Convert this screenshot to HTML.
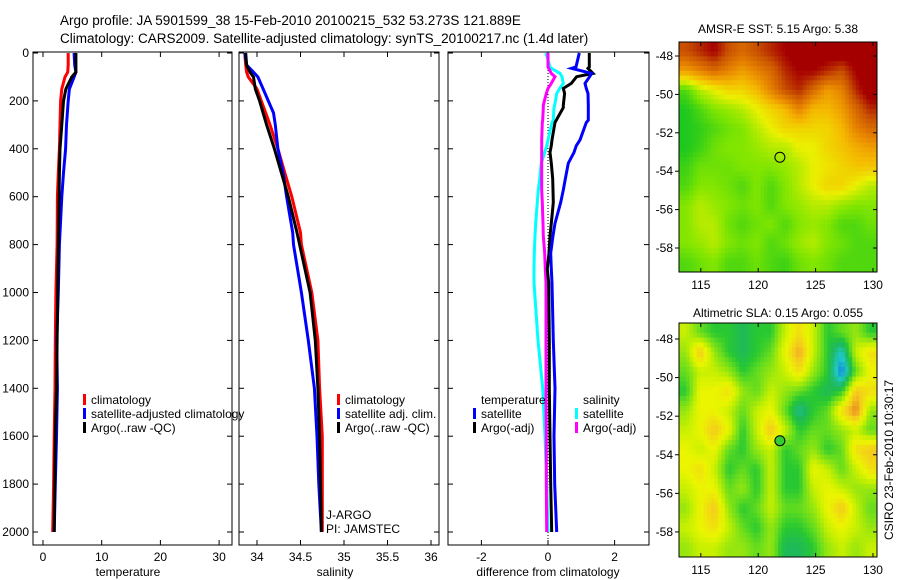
<!DOCTYPE html>
<html><head><meta charset="utf-8"><style>
html,body{margin:0;padding:0;background:#fff;}
svg{display:block;font-family:"Liberation Sans",sans-serif;}
text{font-size:12px;fill:#000;}
</style></head><body>
<svg id="fig" width="900" height="580" viewBox="0 0 900 580" xmlns="http://www.w3.org/2000/svg">
<text x="60" y="25" style="font-size:13.5px">Argo profile: JA 5901599_38 15-Feb-2010 20100215_532 53.273S 121.889E</text>
<text x="60" y="43" style="font-size:13.5px">Climatology: CARS2009. Satellite-adjusted climatology: synTS_20100217.nc (1.4d later)</text>
<text x="778" y="33" text-anchor="middle">AMSR-E SST: 5.15 Argo: 5.38</text>
<text x="778" y="317" text-anchor="middle">Altimetric SLA: 0.15 Argo: 0.055</text>
<text transform="translate(893,460) rotate(-90)" text-anchor="middle">CSIRO 23-Feb-2010 10:30:17</text>
<g id="plots"></g>
</svg>
<script>
// ---- profile data ----
const depthT = [0,50,80,100,150,200,300,400,500,600,800,1000,1200,1400,1600,1800,2000];
const tempClim = [4.3,4.3,4.2,3.75,3.2,3.0,2.9,2.8,2.6,2.45,2.4,2.2,2.1,2.05,1.9,1.8,1.65];
const tempSat  = [5.3,5.4,5.6,5.3,4.5,4.3,4.0,3.85,3.5,3.2,2.8,2.6,2.33,2.45,2.3,2.1,1.9];
const tempArgo = [5.6,5.6,5.6,4.9,3.9,3.5,3.2,2.9,2.8,2.75,2.6,2.5,2.4,2.3,2.1,2.0,1.9];
const depthS = [0,50,80,100,150,200,250,300,400,500,600,750,800,1000,1200,1400,1600,1800,2000];
const salClim = [33.86,33.87,33.88,33.9,34.0,34.05,34.1,34.15,34.24,34.32,34.4,34.5,34.51,34.63,34.7,34.72,34.75,34.75,34.75];
const salSat  = [33.86,33.88,33.96,34.01,34.07,34.13,34.19,34.21,34.24,34.3,34.34,34.41,34.42,34.51,34.59,34.66,34.69,34.71,34.74];
const salArgo = [33.87,33.88,33.92,33.96,33.98,34.03,34.07,34.11,34.2,34.28,34.36,34.46,34.49,34.61,34.67,34.7,34.72,34.73,34.74];
const depthD = [0,58,64,85,99,127,148,169,218,228,280,290,363,387,415,460,526,572,624,711,763,836,902,960,1200,1400,1600,1800,2000];
const diffTSat  = [0.94,0.84,0.71,1.31,1.25,1.11,1.15,1.2,1.21,1.21,1.21,1.15,0.96,0.85,0.78,0.61,0.52,0.46,0.38,0.21,0.15,0.08,0.1,0.12,0.16,0.21,0.18,0.2,0.26];
const diffTArgo = [1.24,1.24,1.2,1.35,0.86,0.7,0.46,0.5,0.46,0.46,0.25,0.21,0.12,0.1,0.06,0.1,0.14,0.15,0.16,0.1,0.06,0.03,-0.02,0.02,0.04,0.04,0.06,0.08,0.11];
const diffSSat  = [-0.06,0.06,0.1,0.36,0.42,0.46,0.35,0.26,0.2,0.18,0.16,0.12,0.0,-0.04,-0.1,-0.2,-0.25,-0.29,-0.32,-0.37,-0.39,-0.41,-0.42,-0.42,-0.3,-0.16,-0.09,-0.04,0.0];
const diffSArgo = [0.0,0.0,0.02,0.1,0.21,0.1,0.0,-0.05,-0.14,-0.14,-0.16,-0.17,-0.19,-0.19,-0.19,-0.19,-0.19,-0.19,-0.17,-0.15,-0.14,-0.1,-0.08,-0.06,-0.06,-0.06,-0.05,-0.05,-0.04];
const depthTicks = [0,200,400,600,800,1000,1200,1400,1600,1800,2000];
const tempTicks = [0,10,20,30];
const salTicks = [34,34.5,35,35.5,36];
const diffTicks = [-2,0,2];
// ---- map data (rows N->S, cols W->E) ----
const sstGrid = [
[0.8,0.85,0.9,0.8,0.75,0.8,0.85,0.9,0.95,0.95,0.95,0.95,0.95,0.95],
[0.65,0.7,0.75,0.7,0.65,0.7,0.75,0.85,0.9,0.9,0.85,0.8,0.9,0.95],
[0.35,0.45,0.5,0.55,0.55,0.6,0.7,0.8,0.85,0.75,0.65,0.7,0.85,0.95],
[0.3,0.35,0.4,0.42,0.45,0.5,0.55,0.6,0.7,0.6,0.6,0.65,0.75,0.85],
[0.3,0.32,0.35,0.38,0.4,0.45,0.5,0.55,0.55,0.55,0.55,0.6,0.7,0.75],
[0.3,0.33,0.38,0.4,0.4,0.42,0.45,0.45,0.5,0.5,0.55,0.58,0.62,0.65],
[0.33,0.38,0.38,0.38,0.4,0.4,0.4,0.42,0.45,0.5,0.52,0.55,0.58,0.58],
[0.35,0.4,0.4,0.38,0.35,0.4,0.35,0.4,0.45,0.5,0.55,0.55,0.5,0.45],
[0.4,0.45,0.42,0.4,0.38,0.4,0.35,0.4,0.42,0.45,0.45,0.42,0.4,0.4],
[0.4,0.45,0.45,0.38,0.35,0.38,0.4,0.35,0.4,0.42,0.4,0.35,0.35,0.38],
[0.4,0.42,0.45,0.4,0.38,0.4,0.35,0.38,0.42,0.45,0.4,0.38,0.35,0.35],
[0.35,0.38,0.4,0.35,0.35,0.38,0.35,0.33,0.38,0.4,0.38,0.35,0.35,0.35]];
const slaGrid = [
[0.45,0.35,0.3,0.3,0.25,0.3,0.3,0.45,0.55,0.45,0.3,0.35,0.4,0.3],
[0.4,0.6,0.4,0.3,0.25,0.3,0.35,0.5,0.65,0.45,0.3,0.15,0.45,0.55],
[0.35,0.45,0.45,0.4,0.3,0.35,0.4,0.45,0.55,0.4,0.3,0.05,0.35,0.5],
[0.3,0.5,0.5,0.55,0.4,0.35,0.45,0.4,0.35,0.3,0.25,0.3,0.6,0.55],
[0.4,0.5,0.5,0.45,0.35,0.45,0.5,0.35,0.2,0.3,0.35,0.55,0.7,0.4],
[0.45,0.5,0.6,0.5,0.3,0.45,0.6,0.45,0.3,0.35,0.35,0.4,0.45,0.35],
[0.5,0.45,0.5,0.35,0.3,0.4,0.45,0.3,0.35,0.4,0.3,0.35,0.55,0.6],
[0.5,0.55,0.45,0.3,0.35,0.3,0.45,0.3,0.3,0.5,0.45,0.35,0.45,0.55],
[0.45,0.5,0.5,0.35,0.4,0.3,0.45,0.3,0.3,0.45,0.5,0.45,0.4,0.4],
[0.4,0.5,0.6,0.4,0.3,0.35,0.45,0.35,0.35,0.4,0.5,0.6,0.45,0.35],
[0.45,0.5,0.55,0.45,0.35,0.3,0.4,0.3,0.3,0.35,0.45,0.5,0.45,0.4],
[0.4,0.45,0.45,0.4,0.4,0.35,0.4,0.25,0.25,0.3,0.4,0.45,0.4,0.45]];
const lonTicks = [115,120,125,130];
const latTicks = [-48,-50,-52,-54,-56,-58];
const argoLon = 121.889, argoLat = -53.273;

const NS='http://www.w3.org/2000/svg';
const root=document.getElementById('plots');
function mk(tag,attrs,parent){const e=document.createElementNS(NS,tag);for(const k in attrs)e.setAttribute(k,attrs[k]);(parent||root).appendChild(e);return e;}
function txt(x,y,s,anchor,parent){const t=mk('text',{x:x,y:y,'text-anchor':anchor||'start'},parent);t.textContent=s;return t;}

const topY=52,botY=545;
const yD=d=>53+d*0.2395;
const panels=[
 {name:'temperature',l:33,r:232,x:v=>43+v*5.87,ticks:tempTicks,label:'temperature',lx:128},
 {name:'salinity',l:239,r:439,x:v=>257+(v-34)*87,ticks:salTicks,label:'salinity',lx:335},
 {name:'difference',l:448,r:649,x:v=>548+v*33.3,ticks:diffTicks,label:'difference from climatology',lx:548}];
panels.forEach(p=>{
 const g=mk('g',{});
 
 
 const fr=mk('rect',{x:p.l,y:topY,width:p.r-p.l,height:botY-topY,fill:'none',stroke:'#000','stroke-width':1},g);
 
 
 p.ticks.forEach(t=>{const x=p.x(t);
  mk('line',{x1:x,y1:botY,x2:x,y2:botY-5,stroke:'#000'},g);
  mk('line',{x1:x,y1:topY,x2:x,y2:topY+5,stroke:'#000'},g);
  const tl=txt(x,561,String(t),'middle',g);
  
  
 });
 depthTicks.forEach(d=>{mk('line',{x1:p.l,y1:yD(d),x2:p.l+5,y2:yD(d),stroke:'#000'},g);
  mk('line',{x1:p.r,y1:yD(d),x2:p.r-5,y2:yD(d),stroke:'#000'},g);});
 const xl=txt(p.lx,576,p.label,'middle',g);
 
 
 p.g=g;
});
depthTicks.forEach(d=>{const t=txt(29,yD(d)+4,String(d),'end');
 
 });

function series(p,vals,depths,color,name,w){
 const pts=vals.map((v,i)=>p.x(v).toFixed(1)+','+yD(depths[i]).toFixed(1)).join(' ');
 const pl=mk('polyline',{points:pts,fill:'none',stroke:color,'stroke-width':w||3,'stroke-linejoin':'miter'},p.g);
 
 
}
const P=panels;
series(P[0],tempClim,depthT,'#f00','temp-climatology-line');
series(P[0],tempSat,depthT,'#00f','temp-satellite-line');
series(P[0],tempArgo,depthT,'#000','temp-argo-line');
series(P[1],salClim,depthS,'#f00','sal-climatology-line');
series(P[1],salSat,depthS,'#00f','sal-satellite-line');
series(P[1],salArgo,depthS,'#000','sal-argo-line');
const zl=mk('line',{x1:P[2].x(0),y1:topY,x2:P[2].x(0),y2:botY,stroke:'#000','stroke-dasharray':'1,2'},P[2].g);


series(P[2],diffSSat,depthD,'#0ff','diff-sal-satellite-line');
series(P[2],diffSArgo,depthD,'#f0f','diff-sal-argo-line');
series(P[2],diffTArgo,depthD,'#000','diff-temp-argo-line');
series(P[2],diffTSat,depthD,'#00f','diff-temp-satellite-line');

function legend(x,y,color,label,name){
 const g=mk('g',{});
 
 
 mk('rect',{x:x,y:y-10,width:3,height:11,fill:color},g);
 txt(x+8,y,label,'start',g);
}
legend(83,404,'#f00','climatology','legend-temp-climatology');
legend(83,418,'#00f','satellite-adjusted climatology','legend-temp-satellite');
legend(83,432,'#000','Argo(..raw -QC)','legend-temp-argo');
legend(337,404,'#f00','climatology','legend-sal-climatology');
legend(337,418,'#00f','satellite adj. clim.','legend-sal-satellite');
legend(337,432,'#000','Argo(..raw -QC)','legend-sal-argo');
const lt=txt(481,404,'temperature');
const ls=txt(583,404,'salinity');
legend(473,418,'#00f','satellite','legend-diff-temp-satellite');
legend(473,432,'#000','Argo(-adj)','legend-diff-temp-argo');
legend(575,418,'#0ff','satellite','legend-diff-sal-satellite');
legend(575,432,'#f0f','Argo(-adj)','legend-diff-sal-argo');
const n1=txt(326,519,'J-ARGO');
const n2=txt(326,533,'PI: JAMSTEC');

// colour maps
function lerpStops(stops,v){
 if(v<=stops[0][0])return 'rgb('+stops[0][1].join(',')+')';
 for(let i=1;i<stops.length;i++){if(v<=stops[i][0]){const a=stops[i-1],b=stops[i],t=(v-a[0])/(b[0]-a[0]);
  return 'rgb('+a[1].map((c,k)=>Math.round(c+(b[1][k]-c)*t)).join(',')+')';}}
 const l=stops[stops.length-1][1];return 'rgb('+l.join(',')+')';
}
const sstStops=[[0.3,[30,200,30]],[0.4,[130,230,0]],[0.5,[235,240,0]],[0.6,[245,185,0]],[0.7,[230,130,0]],[0.8,[200,80,0]],[0.9,[165,0,0]]];
const slaStops=[[0.0,[20,80,230]],[0.15,[30,200,200]],[0.25,[30,185,90]],[0.3,[40,200,50]],[0.35,[100,220,30]],[0.45,[200,240,0]],[0.5,[235,245,0]],[0.6,[245,200,30]],[0.7,[230,130,30]]];

function drawMap(name,grid,stops,x0,y0,w,h,latTop,latBot,lonL,lonR,filled){
 const g=mk('g',{});
 
 
 const rows=grid.length,cols=grid[0].length,sub=4;
 const R=rows*sub,C=cols*sub,cw=w/C,ch=h/R;
 for(let r=0;r<R;r++)for(let c=0;c<C;c++){
  const fr=Math.min(Math.max((r+0.5)/sub-0.5,0),rows-1),fc=Math.min(Math.max((c+0.5)/sub-0.5,0),cols-1);
  const r0=Math.floor(fr),c0=Math.floor(fc),r1=Math.min(r0+1,rows-1),c1=Math.min(c0+1,cols-1),tr=fr-r0,tc=fc-c0;
  const v=grid[r0][c0]*(1-tr)*(1-tc)+grid[r0][c1]*(1-tr)*tc+grid[r1][c0]*tr*(1-tc)+grid[r1][c1]*tr*tc;
  const cell=mk('rect',{x:(x0+c*cw).toFixed(2),y:(y0+r*ch).toFixed(2),width:(cw+0.4).toFixed(2),height:(ch+0.4).toFixed(2),fill:lerpStops(stops,v)},g);
  
  
 }
 const lx=lon=>x0+(lon-lonL)/(lonR-lonL)*w, ly=lat=>y0+(latTop-lat)/(latTop-latBot)*h;
 mk('rect',{x:x0,y:y0,width:w,height:h,fill:'none',stroke:'#000'},g);
 lonTicks.forEach(l=>{mk('line',{x1:lx(l),y1:y0+h,x2:lx(l),y2:y0+h-4,stroke:'#000'},g);
  mk('line',{x1:lx(l),y1:y0,x2:lx(l),y2:y0+4,stroke:'#000'},g);
  const t=txt(lx(l),y0+h+17,String(l),'middle',g);
  
  });
 latTicks.forEach(l=>{mk('line',{x1:x0,y1:ly(l),x2:x0-4,y2:ly(l),stroke:'#000'},g);
  mk('line',{x1:x0+w,y1:ly(l),x2:x0+w-4,y2:ly(l),stroke:'#000'},g);
  const t=txt(x0-6,ly(l)+4,String(l),'end',g);
  
  });
 const m=mk('circle',{cx:lx(argoLon),cy:ly(argoLat),r:5,fill:filled?'#33cc33':'none',stroke:'#000'},g);
 
 
}
drawMap('sst-map',sstGrid,sstStops,679,42,198,230,-47.27,-59.25,113.1,130.35,false);
drawMap('sla-map',slaGrid,slaStops,679,323,198,234,-47.17,-59.3,113.1,130.35,true);
</script>
</body></html>
